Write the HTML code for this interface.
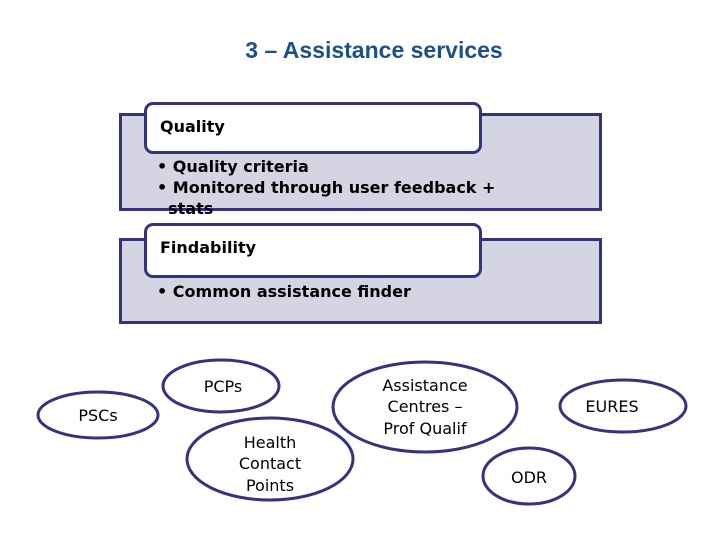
<!DOCTYPE html>
<html><head><style>
body{margin:0;width:720px;height:540px;background:#fff;position:relative;overflow:hidden;font-family:"DejaVu Sans","Liberation Sans",sans-serif;}
.t{position:absolute;left:0;width:748px;top:37px;text-align:center;font:bold 23px "Liberation Sans",sans-serif;color:#1f4e8c;}
.bg{position:absolute;background:#d4d4e2;border:3px solid #333380;box-sizing:border-box;}
.hd{position:absolute;background:#fff;border:3px solid #333380;border-radius:9px;box-sizing:border-box;font-weight:bold;font-size:16px;padding:12px 0 0 13px;}
.b{position:absolute;font-weight:bold;font-size:16px;line-height:21px;}
svg{position:absolute;left:0;top:0}
</style></head><body>
<div class="t">3 – Assistance services</div>
<div class="bg" style="left:119px;top:113px;width:483px;height:98px"></div>
<div class="hd" style="left:144px;top:102px;width:338px;height:52px">Quality</div>
<div class="b" style="left:157px;top:156px">• Quality criteria<br>• Monitored through user feedback +<br>&nbsp;&nbsp;stats</div>
<div class="bg" style="left:119px;top:238px;width:483px;height:86px"></div>
<div class="hd" style="left:144px;top:223px;width:338px;height:55px">Findability</div>
<div class="b" style="left:157px;top:281px">• Common assistance finder</div>
<svg width="720" height="540" font-family="DejaVu Sans, Liberation Sans, sans-serif" font-size="16" text-anchor="middle">
<g fill="#fff" stroke="#333380" stroke-width="3">
<ellipse cx="98" cy="415" rx="60" ry="23"/>
<ellipse cx="221" cy="386" rx="58" ry="26"/>
<ellipse cx="270" cy="459" rx="83" ry="41"/>
<ellipse cx="425" cy="407" rx="92" ry="45"/>
<ellipse cx="623" cy="406" rx="63" ry="26"/>
<ellipse cx="529" cy="476" rx="46" ry="28"/>
</g>
<text x="98" y="421">PSCs</text>
<text x="223" y="392">PCPs</text>
<text x="270" y="448">Health</text>
<text x="270" y="469">Contact</text>
<text x="270" y="491">Points</text>
<text x="425" y="391">Assistance</text>
<text x="425" y="412">Centres –</text>
<text x="425" y="434">Prof Qualif</text>
<text x="612" y="412">EURES</text>
<text x="529" y="483">ODR</text>
</svg>
</body></html>
